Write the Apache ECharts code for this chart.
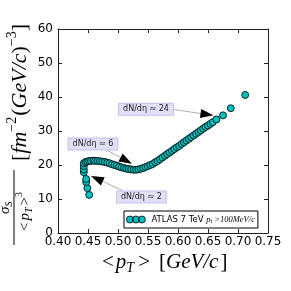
<!DOCTYPE html>
<html><head><meta charset="utf-8">
<script src="https://cdn.jsdelivr.net/npm/echarts@6/dist/echarts.min.js"></script>
<style>html,body{margin:0;padding:0;background:#fff}#c{width:291px;height:291px}</style>
</head><body><div id="c"></div>
<script>
// ---- data ----
const ptValues = [0.452,0.449,0.447,0.447,0.443,0.443,0.443,
 0.443,0.446,0.449,0.452,0.455,0.459,0.462,
 0.466,0.470,0.474,0.478,0.482,0.486,0.490,0.494,0.498,0.502,0.506,0.510,0.514,0.518,0.522,0.526,0.530,0.534,0.538,0.542,
 0.546,0.550,0.554,0.558,0.562,0.566,0.570,0.574,0.578,0.582,0.586,0.590,0.594,0.598,0.602,0.606,0.610,0.614,0.618,0.622,
 0.626,0.630,0.634,0.638,0.642,0.646,0.650,0.654,0.658,0.664,0.675,0.688,0.712];
const sigmaValues = [11.2,13.2,15.0,15.9,17.9,18.7,19.7,
 20.5,20.9,21.0,21.2,21.2,21.3,21.2,
 21.2,21.1,21.0,20.9,20.7,20.5,20.2,20.0,19.8,19.5,19.3,19.1,18.9,18.8,18.7,18.6,18.6,18.7,18.9,19.1,
 19.4,19.7,20.0,20.3,20.8,21.2,21.7,22.2,22.7,23.2,23.7,24.2,24.7,25.2,25.6,26.2,26.7,27.2,27.7,28.2,
 28.7,29.2,29.7,30.2,30.7,31.2,31.6,32.1,32.6,33.4,34.6,36.7,40.6];
const seriesName = 'ATLAS 7 TeV';
const xTickLabels = ['0.40','0.45','0.50','0.55','0.60','0.65','0.70','0.75'];
const yTickLabels = ['0','10','20','30','40','50','60'];
// annotations (data coordinates)
const annoText = ['dN/dη ≈ 24','dN/dη ≈ 6','dN/dη ≈ 2'];
const annoX = [0.5467,0.4583,0.539];
const annoY = [36.4,26.2,10.6];
const tailX = [0.590,0.480,0.5083];
const tailY = [36.4,24.5,12.4];
const tipX = [0.659,0.5233,0.455];
const tipY = [34.6,20.4,16.8];

const chart = echarts.init(document.getElementById('c'), null, {renderer:'canvas'});
const frame = '#222';
const baseAxis = {
  type:'value', splitLine:{show:false},
  axisLine:{show:true, onZero:false, lineStyle:{color:frame, width:1}},
  axisTick:{show:true, inside:true, length:4, lineStyle:{color:frame, width:1}}
};
const points = ptValues.map((v,i)=>[v, sigmaValues[i]]);
const legendIcon = 'path://M0,35a35,35 0 1,0 70,0a35,35 0 1,0 -70,0z M60,35a35,35 0 1,0 70,0a35,35 0 1,0 -70,0z M120,35a35,35 0 1,0 70,0a35,35 0 1,0 -70,0z';

chart.setOption({
  animation:false,
  grid:{left:58, right:23, top:29, bottom:58},
  xAxis:[
    Object.assign({}, baseAxis, {position:'bottom', min:0.40, max:0.75, interval:0.05,
      axisLabel:{color:'#000', fontSize:12, fontFamily:'DejaVu Sans', margin:3,
        formatter:(v)=>{const i=Math.round((v-0.40)/0.05); return xTickLabels[i]||'';}}}),
    Object.assign({}, baseAxis, {position:'top', min:0.40, max:0.75, interval:0.05, axisLabel:{show:false}})
  ],
  yAxis:[
    Object.assign({}, baseAxis, {position:'left', min:0, max:60, interval:10,
      axisLabel:{color:'#000', fontSize:12, fontFamily:'DejaVu Sans', margin:5,
        formatter:(v)=>{const i=Math.round(v/10); return yTickLabels[i]||'';}}}),
    Object.assign({}, baseAxis, {position:'right', min:0, max:60, interval:10, axisLabel:{show:false}})
  ],
  legend:{
    left:124, top:211, z:20, itemWidth:19, itemHeight:7, itemGap:0,
    padding:[4,3,4,2], borderColor:'#000', borderWidth:1, borderRadius:0, backgroundColor:'#fff',
    data:[{name:seriesName, icon:legendIcon}],
    itemStyle:{color:'#00bfbf', borderColor:'#000', borderWidth:0.8},
    textStyle:{color:'#000', fontSize:8.5, fontFamily:'DejaVu Sans', padding:[0,0,0,1],
      rich:{m:{fontFamily:'Liberation Serif', fontStyle:'italic', fontSize:8.5, color:'#000'},
            s:{fontFamily:'Liberation Serif', fontStyle:'italic', fontSize:6, color:'#000', padding:[3,0,0,0]}}},
    formatter:(n)=> n + ' {m|p}{s|t}{m| >100MeV/c}'
  },
  series:[{
    name:seriesName, type:'scatter', data:points, symbol:'circle', symbolSize:7,
    itemStyle:{color:'#00bfbf', borderColor:'#000', borderWidth:0.8, opacity:1},
    emphasis:{disabled:true}
  }]
});

// ---- overlay: annotations and axis titles ----
const mctx = document.createElement('canvas').getContext('2d');
function layout(pieces, x0, base){
  let x = x0; const out = [];
  for (const p of pieces){
    const font = (p.it?'italic ':'') + p.s + 'px ' + (p.f||'Liberation Serif');
    mctx.font = font;
    const w = mctx.measureText(p.t).width;
    x += (p.pre||0);
    out.push({type:'text', x:x, y:base + (p.dy||0) + 0.22*p.s,
      style:{text:p.t, font:font, fill:'#000', align:'left', verticalAlign:'bottom'}});
    x += w + (p.post||0);
  }
  return out;
}
const graphics = [];
for (let i=0;i<annoText.length;i++){
  const c = chart.convertToPixel({gridIndex:0}, [annoX[i], annoY[i]]);
  const t = chart.convertToPixel({gridIndex:0}, [tailX[i], tailY[i]]);
  const h = chart.convertToPixel({gridIndex:0}, [tipX[i], tipY[i]]);
  const dx = h[0]-t[0], dy = h[1]-t[1], L = Math.hypot(dx,dy), ux = dx/L, uy = dy/L;
  const hl = 13, hw = 4.5;
  const bx = h[0]-ux*hl, by = h[1]-uy*hl;
  graphics.push({type:'line', z:30, shape:{x1:t[0],y1:t[1],x2:bx,y2:by}, style:{stroke:'#999', lineWidth:0.8}});
  graphics.push({type:'polygon', z:31, shape:{points:[[h[0],h[1]],[bx-uy*hw,by+ux*hw],[bx+uy*hw,by-ux*hw]]}, style:{fill:'#000'}});
  graphics.push({type:'text', z:32, x:c[0], y:c[1], style:{text:annoText[i], font:'8px DejaVu Sans', fill:'#222',
    align:'center', verticalAlign:'middle', backgroundColor:'#dfdff6', borderColor:'#c2c2ea', borderWidth:1, padding:[2,4,1,4]}});
}
// x axis title
graphics.push({type:'group', children: layout([
  {t:'<', s:21, post:2},
  {t:'p', s:21, it:true},
  {t:'T', s:14, it:true, dy:4, post:4},
  {t:'>', s:21, post:9},
  {t:'[', s:21},
  {t:'GeV/c', s:21, it:true, post:2},
  {t:']', s:21}
], 102, 268)});
// y axis title (rotated group, local u along text, v = screen x)
const yChildren = [];
yChildren.push({type:'line', shape:{x1:46, y1:14, x2:121, y2:14}, style:{stroke:'#000', lineWidth:1}});
yChildren.push(...layout([
  {t:'σ', s:15, it:true},
  {t:'S', s:10, it:true, dy:3}
], 77, 9));
yChildren.push(...layout([
  {t:'<', s:15, post:2},
  {t:'p', s:15, it:true},
  {t:'T', s:10, it:true, dy:3, post:2},
  {t:'>', s:15},
  {t:'3', s:10, dy:-7}
], 60, 29));
yChildren.push(...layout([
  {t:'[', s:22},
  {t:'fm', s:22, it:true},
  {t:'−2', s:14, dy:-10},
  {t:'(', s:22, pre:1},
  {t:'GeV/c', s:22, it:true},
  {t:')', s:22},
  {t:'−3', s:14, dy:-10},
  {t:']', s:22}
], 130, 26));
graphics.push({type:'group', x:0, y:291, rotation:Math.PI/2, children:yChildren});
chart.setOption({graphic:graphics});
</script></body></html>
